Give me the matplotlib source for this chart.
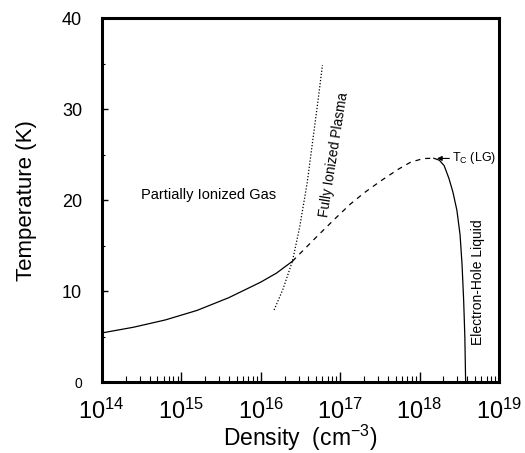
import numpy as np
import matplotlib
matplotlib.use("Agg")
import matplotlib.pyplot as plt

plt.rcParams['font.family'] = ['Liberation Sans', 'DejaVu Sans']
plt.rcParams['mathtext.fontset'] = 'custom'
plt.rcParams['mathtext.rm'] = 'Liberation Sans'
plt.rcParams['mathtext.it'] = 'Liberation Sans:italic'

# log10(density) and temperature (K)
gas_logn = [14.0, 14.4, 14.8, 15.2, 15.6, 16.0, 16.2, 16.4]
gas_T = [5.42, 6.05, 6.85, 7.9, 9.3, 11.0, 12.0, 13.3]

coex_logn = [16.4, 16.69, 16.92, 17.13, 17.30, 17.51, 17.73, 17.89, 18.05, 18.18]
coex_T = [13.3, 15.86, 17.84, 19.59, 20.8, 22.12, 23.4, 24.2, 24.59, 24.62]

ehl_logn = [18.18, 18.25, 18.31, 18.37, 18.42, 18.47, 18.51, 18.535, 18.555, 18.57, 18.58]
ehl_T = [24.62, 24.4, 23.8, 22.4, 20.9, 18.9, 16.2, 12.9, 9.0, 5.0, 0.0]

plasma_logn = [16.17, 16.28, 16.40, 16.49, 16.585, 16.668, 16.72, 16.778]
plasma_T = [7.95, 10.2, 13.3, 17.0, 21.87, 27.36, 30.8, 34.87]

tc_logn = 18.22
tc_T = 24.6

xtick_exp = [14, 15, 16, 17, 18, 19]
ytick_vals = [0, 10, 20, 30, 40]

fig = plt.figure(figsize=(5.25, 4.53), dpi=100)
ax = fig.add_axes([0.1937, 0.1561, 0.7568, 0.8035])

ax.plot(10.0**np.array(gas_logn), gas_T, color='k', lw=0.9)
ax.plot(10.0**np.array(coex_logn), coex_T, color='k', lw=0.9, dashes=(4, 4))
ax.plot(10.0**np.array(ehl_logn), ehl_T, color='k', lw=0.9)
ax.plot(10.0**np.array(plasma_logn), plasma_T, color='k', lw=0.9, ls=(0, (1, 1.5)))

ax.set_xscale('log')
ax.set_xlim(1e14, 1e19)
ax.set_ylim(0, 40)

ax.set_xticks([10.0**e for e in xtick_exp])
ax.set_xticklabels(['$10^{%d}$' % e for e in xtick_exp], fontsize=17)
ax.set_yticks(ytick_vals)
ax.set_yticklabels([str(v) for v in ytick_vals], fontsize=13)
ax.get_yticklabels()[0].set_fontsize(10)
ax.set_yticks([5, 15, 25, 35], minor=True)

ax.tick_params(axis='x', which='major', direction='in', length=7, width=1, pad=12, top=False)
ax.tick_params(axis='x', which='minor', direction='in', length=4.5, width=0.8, top=False)
ax.tick_params(axis='y', which='major', direction='in', length=4.5, width=1, pad=14, right=False)
ax.tick_params(axis='y', which='minor', direction='in', length=2.5, width=0.8, right=False)

for s in ax.spines.values():
    s.set_linewidth(2.2)

ax.set_xlabel('Density  (cm$^{-3}$)', fontsize=16.5, labelpad=-1)
ax.set_ylabel('Temperature (K)', fontsize=16, labelpad=18)

ax.text(10**15.34, 20.6, 'Partially Ionized Gas', fontsize=10.5, ha='center', va='center')
ax.text(10**16.92, 25.0, 'Fully Ionized Plasma', fontsize=9.8, ha='center', va='center',
        rotation=81, rotation_mode='anchor')
ax.text(10**18.74, 11.0, 'Electron-Hole Liquid', fontsize=10, ha='center', va='center',
        rotation=90)
ax.annotate('T$_\\mathrm{C}$ (LG)', xy=(10**tc_logn, tc_T), xytext=(10**18.41, tc_T),
            fontsize=9, ha='left', va='center',
            arrowprops=dict(arrowstyle='-|>', color='k', lw=0.8, mutation_scale=7,
                            shrinkA=0, shrinkB=0))

fig.savefig('out.png', dpi=100)
